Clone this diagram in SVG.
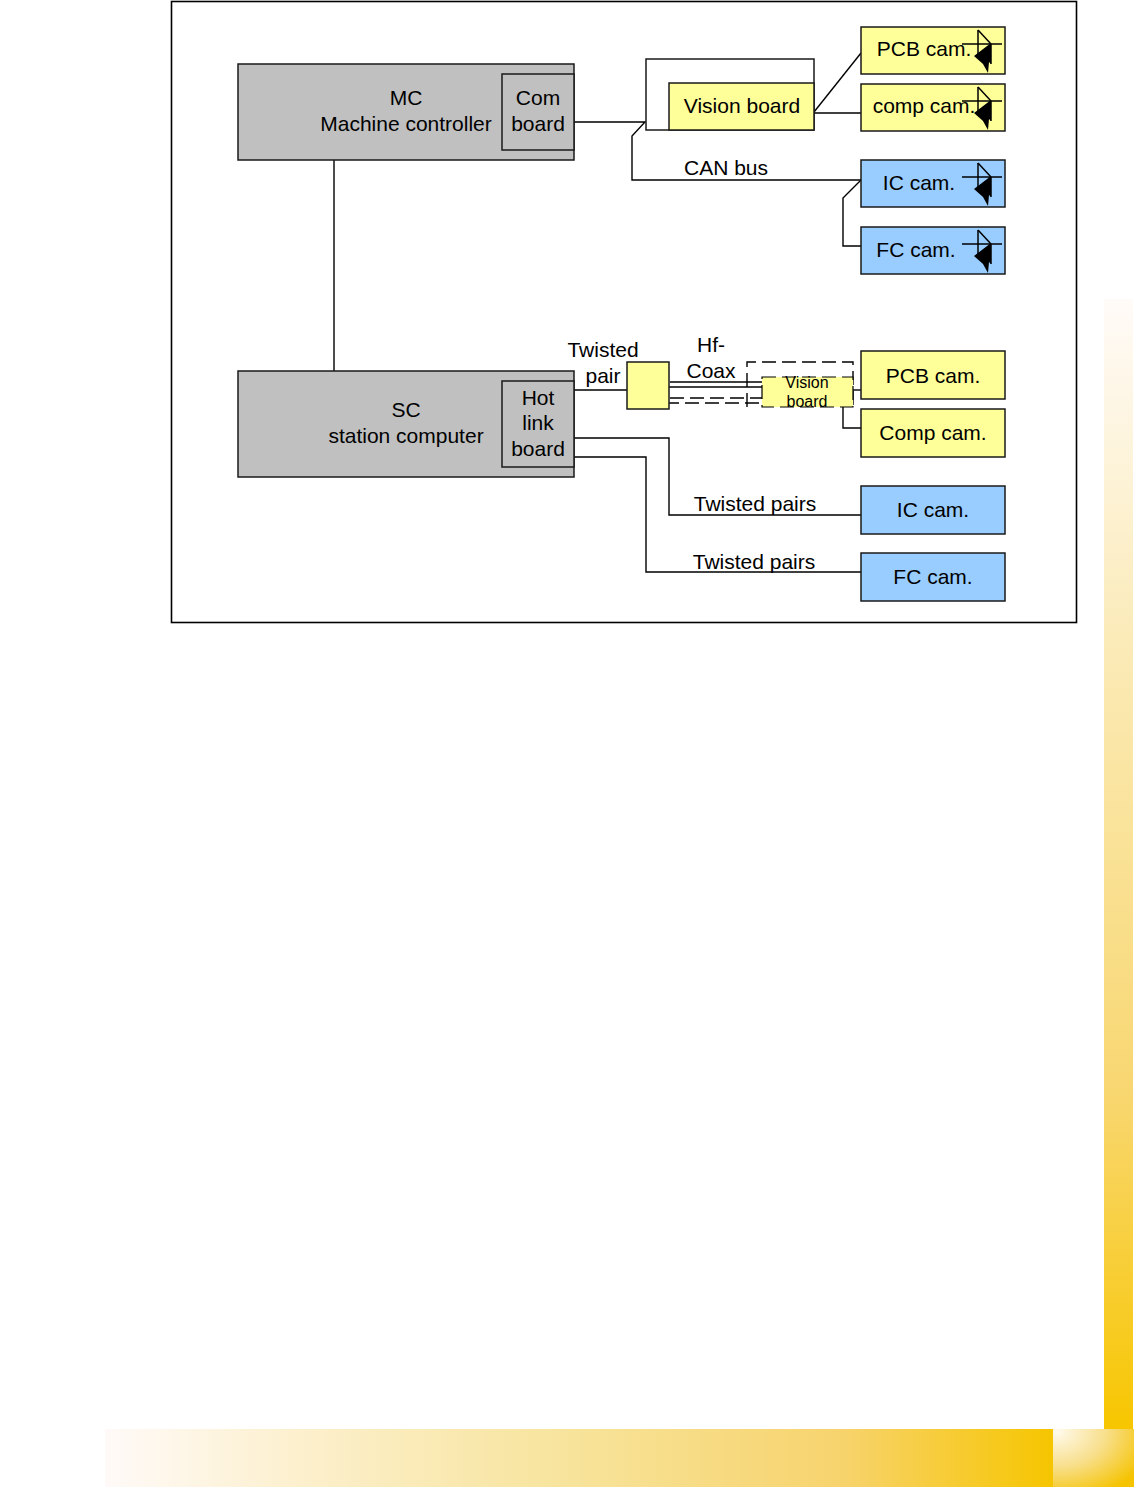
<svg xmlns="http://www.w3.org/2000/svg" width="1134" height="1487" viewBox="0 0 1134 1487">
<defs>
<linearGradient id="gBottom" x1="0" y1="0" x2="1" y2="0">
<stop offset="0" stop-color="#FFFAF8"/>
<stop offset="0.2" stop-color="#FCF0CE"/>
<stop offset="0.5" stop-color="#F7E399"/>
<stop offset="0.78" stop-color="#F7D36C"/>
<stop offset="1" stop-color="#F6C500"/>
</linearGradient>
<linearGradient id="gRight" x1="0" y1="0" x2="0" y2="1">
<stop offset="0" stop-color="#FFFBF8"/>
<stop offset="0.35" stop-color="#FAE8AE"/>
<stop offset="0.7" stop-color="#F8D771"/>
<stop offset="1" stop-color="#F7C600"/>
</linearGradient>
<radialGradient id="gCorner" cx="0.05" cy="0.05" r="1.2">
<stop offset="0" stop-color="#FFFAEC"/>
<stop offset="0.5" stop-color="#F8DF8C"/>
<stop offset="1" stop-color="#F5C300"/>
</radialGradient>
<g id="camicon">
<line x1="101" y1="17" x2="141" y2="17" stroke="#000" stroke-width="1.5"/>
<line x1="117" y1="3" x2="117" y2="27" stroke="#000" stroke-width="1.5"/>
<line x1="117" y1="3" x2="130" y2="17" stroke="#000" stroke-width="1.5"/>
<line x1="130" y1="17" x2="130" y2="37" stroke="#000" stroke-width="1.5"/>
<polygon points="113,29 130,16 130,37 128,35 127,46 122,37" fill="#000"/>
</g>
</defs>
<style>
text{font-family:"Liberation Sans",Arial,sans-serif;font-size:21px;fill:#000;text-anchor:middle}
.box{stroke:#1a1a1a;stroke-width:1.5}
.gray{fill:#C0C0C0}
.yel{fill:#FFFF99}
.blu{fill:#99CCFF}
.con{fill:none;stroke:#000;stroke-width:1.4}
.dash{fill:none;stroke:#000;stroke-width:1.4;stroke-dasharray:14,6}
.small{font-size:16px}
</style>
<rect width="1134" height="1487" fill="#fff"/>
<rect x="1104" y="299" width="29" height="1131" fill="url(#gRight)"/>
<rect x="105" y="1429" width="948" height="58" fill="url(#gBottom)"/>
<rect x="1053" y="1429" width="81" height="58" fill="url(#gCorner)"/>
<rect x="171.5" y="1.5" width="905" height="621" fill="none" stroke="#000" stroke-width="1.6"/>
<g id="connectors">
<line class="con" x1="334" y1="160" x2="334" y2="371"/>
<polyline class="con" points="574,122 645,122 632,136 632,180 861,180"/>
<polyline class="con" points="814,112 861,53"/>
<line class="con" x1="814" y1="113" x2="861" y2="113"/>
<polyline class="con" points="861,180 843,198 843,246 861,246"/>
<line class="con" x1="574" y1="390" x2="627" y2="390"/>
<line class="con" x1="670" y1="382" x2="762" y2="382"/>
<line class="con" x1="665" y1="387" x2="762" y2="387"/>
<line class="dash" x1="670" y1="398" x2="762" y2="398"/>
<line class="dash" x1="665" y1="403" x2="762" y2="403"/>
<line class="con" x1="853" y1="390" x2="872" y2="390"/>
<polyline class="con" points="843,407 843,428 861,428"/>
<polyline class="con" points="574,438 669,438 669,515 861,515"/>
<polyline class="con" points="574,457 646,457 646,572 861,572"/>
</g>
<g id="labels">
<text x="726" y="175">CAN bus</text>
<text x="603" y="357">Twisted</text>
<text x="603" y="383">pair</text>
<text x="711" y="352">Hf-</text>
<text x="711" y="378">Coax</text>
<text x="755" y="511">Twisted pairs</text>
<text x="754" y="569">Twisted pairs</text>
</g>
<g id="mc">
<rect class="box gray" x="238" y="64" width="336" height="96"/>
<rect class="box gray" x="502" y="74" width="72" height="76"/>
<text x="406" y="105">MC</text>
<text x="406" y="131">Machine controller</text>
<text x="538" y="105">Com</text>
<text x="538" y="131">board</text>
</g>
<g id="sc">
<rect class="box gray" x="238" y="371" width="336" height="106"/>
<rect class="box gray" x="502" y="381" width="72" height="86"/>
<text x="406" y="417">SC</text>
<text x="406" y="443">station computer</text>
<text x="538" y="405">Hot</text>
<text x="538" y="430">link</text>
<text x="538" y="456">board</text>
</g>
<g id="visionboard">
<rect class="box" fill="#fff" x="646" y="59" width="168" height="71"/>
<rect class="box yel" x="669" y="83" width="145" height="47"/>
<text x="742" y="113">Vision board</text>
</g>
<g id="pcbcam1">
<rect class="box yel" x="861" y="27" width="144" height="47"/>
<text x="924" y="56">PCB cam.</text>
<use href="#camicon" x="861" y="27"/>
</g>
<g id="compcam1">
<rect class="box yel" x="861" y="84" width="144" height="47"/>
<text x="924" y="113">comp cam.</text>
<use href="#camicon" x="861" y="84"/>
</g>
<g id="iccam1">
<rect class="box blu" x="861" y="160" width="144" height="47"/>
<text x="919" y="190">IC cam.</text>
<use href="#camicon" x="861" y="160"/>
</g>
<g id="fccam1">
<rect class="box blu" x="861" y="227" width="144" height="47"/>
<text x="916" y="257">FC cam.</text>
<use href="#camicon" x="861" y="227"/>
</g>
<g id="twistbox">
<rect class="box yel" x="627" y="362" width="42" height="47"/>
</g>
<g id="visionboard2">
<path class="dash" d="M747,407 V362 H853 V407"/>
<rect x="762" y="377" width="91" height="30" fill="#FFFF99" stroke="#000" stroke-width="1.2" stroke-dasharray="14,6"/>
<text class="small" x="807" y="388">Vision</text>
<text class="small" x="807" y="407">board</text>
</g>
<g id="pcbcam2">
<rect class="box yel" x="861" y="351" width="144" height="48"/>
<text x="933" y="383">PCB cam.</text>
</g>
<g id="compcam2">
<rect class="box yel" x="861" y="409" width="144" height="48"/>
<text x="933" y="440">Comp cam.</text>
</g>
<g id="iccam2">
<rect class="box blu" x="861" y="486" width="144" height="48"/>
<text x="933" y="517">IC cam.</text>
</g>
<g id="fccam2">
<rect class="box blu" x="861" y="553" width="144" height="48"/>
<text x="933" y="584">FC cam.</text>
</g>
</svg>
